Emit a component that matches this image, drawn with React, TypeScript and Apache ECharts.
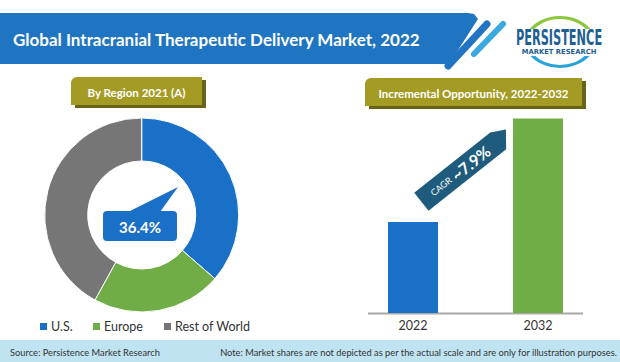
import React, { useEffect, useRef } from "react";
import * as echarts from "echarts";

const title = "Global Intracranial Therapeutic Delivery Market, 2022";
const regionBadge = "By Region 2021 (A)";
const oppBadge = "Incremental Opportunity, 2022-2032";
const regions = ["U.S.", "Europe", "Rest of World"];
const regionShares = [36.4, 21.6, 42.0];
const regionColors = ["#1a6fc6", "#70ad47", "#767676"];
const years = ["2022", "2032"];
const marketIndex = [1.0, 2.14];
const barColors = ["#1a6fc6", "#70ad47"];
const cagr = 7.9;
const sourceText = "Source: Persistence Market Research";
const noteText = "Note: Market shares are not depicted as per the actual scale and are only for illustration purposes.";

const FONT = "Lato";

export default function App() {
  const ref = useRef<HTMLDivElement>(null);
  useEffect(() => {
    const chart = echarts.init(ref.current!, null, { renderer: "svg" });
    const legends = regions.map((r, i) => ({
      show: true,
      data: [r],
      left: [38, 91, 162][i],
      top: 320,
      padding: 0,
      icon: "rect",
      itemWidth: 9,
      itemHeight: 9,
      selectedMode: false,
      textStyle: { color: "#333", fontSize: 12.5, fontFamily: FONT, padding: [0, 0, 0, -2] },
    }));
    const badge = (x: number, y: number, w: number, h: number, text: string) => ({
      type: "group",
      children: [
        { type: "rect", shape: { x: x + 4, y: y + 3, width: w, height: h, r: [6, 0, 0, 0] }, style: { fill: "#6b6219" } },
        { type: "rect", shape: { x, y, width: w, height: h, r: [6, 0, 0, 0] }, style: { fill: "#a49b25" } },
        {
          type: "text",
          x: x + w / 2,
          y: y + h / 2 + 1,
          style: { text, fill: "#fff", font: `bold 11.5px ${FONT}`, align: "center", verticalAlign: "middle" },
        },
      ],
    });
    const option: any = {
      animation: false,
      legend: legends,
      grid: { left: 350.5, width: 250, top: 113, height: 200 },
      xAxis: {
        type: "category",
        data: years,
        axisLine: { show: false },
        axisTick: { show: false },
        axisLabel: { color: "#333", fontSize: 12.5, fontFamily: FONT, margin: 6 },
      },
      yAxis: { type: "value", min: 0, max: 2.2, show: false, splitLine: { show: false } },
      series: [
        {
          type: "pie",
          center: [141.7, 215],
          radius: [54, 97],
          startAngle: 90,
          clockwise: true,
          silent: true,
          label: { show: false },
          labelLine: { show: false },
          itemStyle: { borderColor: "#fff", borderWidth: 1 },
          data: regions.map((r, i) => ({ name: r, value: regionShares[i], itemStyle: { color: regionColors[i] } })),
        },
        {
          type: "bar",
          barWidth: 50,
          silent: true,
          data: marketIndex.map((v, i) => ({ value: v, itemStyle: { color: barColors[i] } })),
        },
      ],
      graphic: [
        // header band
        {
          type: "polygon",
          shape: { points: [[0, 13], [468, 13], [474, 14], [478, 19], [449, 64], [0, 64]] },
          style: { fill: "#1f75c1" },
        },
        {
          type: "text",
          x: 13,
          y: 39,
          style: { text: title, fill: "#fff", font: `bold 17px ${FONT}`, verticalAlign: "middle" },
        },
        // stripes
        { type: "line", shape: { x1: 448, y1: 66, x2: 487, y2: 24 }, style: { stroke: "#1f75c1", lineWidth: 7, lineCap: "round" } },
        { type: "line", shape: { x1: 474, y1: 54, x2: 503, y2: 24 }, style: { stroke: "#3aa9e0", lineWidth: 6, lineCap: "round" } },
        // logo
        {
          type: "group",
          children: [
            {
              type: "arc",
              shape: { cx: 560, cy: 42, r: 33, startAngle: Math.PI * 1.1, endAngle: Math.PI * 1.92, clockwise: true },
              scaleY: 0.74,
              originX: 560,
              originY: 42,
              style: { stroke: "#8dc63f", lineWidth: 4, fill: null },
            },
            {
              type: "arc",
              shape: { cx: 560, cy: 42, r: 33, startAngle: Math.PI * 0.1, endAngle: Math.PI * 0.85, clockwise: true },
              scaleY: 0.74,
              originX: 560,
              originY: 42,
              style: { stroke: "#2aa3da", lineWidth: 4, fill: null },
            },
            {
              type: "rect",
              shape: { x: 513, y: 29, width: 94, height: 27 },
              style: { fill: "#fff" },
            },
            {
              type: "text",
              x: 559,
              y: 38,
              scaleX: 0.6,
              style: { text: "PERSISTENCE", fill: "#1f5f94", font: "bold 21px 'DejaVu Sans Condensed'", align: "center", verticalAlign: "middle" },
            },
            {
              type: "text",
              x: 559,
              y: 52,
              style: { text: "MARKET RESEARCH", fill: "#1f5f94", font: "bold 6.8px 'DejaVu Sans'", align: "center", verticalAlign: "middle" },
            },
          ],
        },
        badge(71, 77, 131, 28, regionBadge),
        badge(365, 78, 217, 28, oppBadge),
        // callout
        {
          type: "group",
          z: 100,
          children: [
            { type: "polygon", shape: { points: [[128, 212], [160, 212], [178, 187]] }, style: { fill: "#1a6fc6" } },
            { type: "rect", shape: { x: 103, y: 211, width: 74, height: 30, r: 4 }, style: { fill: "#1a6fc6" } },
            {
              type: "text",
              x: 140,
              y: 227,
              style: { text: `${regionShares[0]}%`, fill: "#fff", font: `bold 15px ${FONT}`, align: "center", verticalAlign: "middle" },
            },
          ],
        },
        // CAGR arrow
        {
          type: "group",
          x: 464.5,
          y: 167.5,
          rotation: (38.4 * Math.PI) / 180,
          z: 100,
          children: [
            {
              type: "polygon",
              shape: { points: [[-55, -11.5], [42, -11.5], [56, -4], [44, 11.5], [-55, 11.5]] },
              style: { fill: "#1e5b7c" },
            },
            {
              type: "text",
              x: -6,
              y: 0,
              style: {
                text: `{a|CAGR} {b|~${cagr}%}`,
                align: "center",
                verticalAlign: "middle",
                rich: {
                  a: { fill: "#fff", fontFamily: FONT, fontSize: 9, color: "#fff" },
                  b: { fill: "#fff", fontFamily: FONT, fontSize: 16, fontWeight: "bold", color: "#fff" },
                },
              },
            },
          ],
        },
        // axis line
        { type: "line", shape: { x1: 368, y1: 313.5, x2: 583, y2: 313.5 }, style: { stroke: "#a8a8a8", lineWidth: 2 } },
        // footer
        { type: "rect", shape: { x: 0, y: 340, width: 620, height: 22 }, style: { fill: "#c0e3f2" } },
        {
          type: "text",
          x: 10,
          y: 352,
          style: { text: sourceText, fill: "#333", font: `9.3px ${FONT}`, verticalAlign: "middle" },
        },
        {
          type: "text",
          x: 617,
          y: 352,
          style: { text: noteText, fill: "#333", font: `9.3px ${FONT}`, align: "right", verticalAlign: "middle" },
        },
      ],
    };
    chart.setOption(option);
    return () => chart.dispose();
  }, []);
  return <div ref={ref} style={{ position: "absolute", left: 0, top: 0, width: 620, height: 362, background: "#fff" }} />;
}
